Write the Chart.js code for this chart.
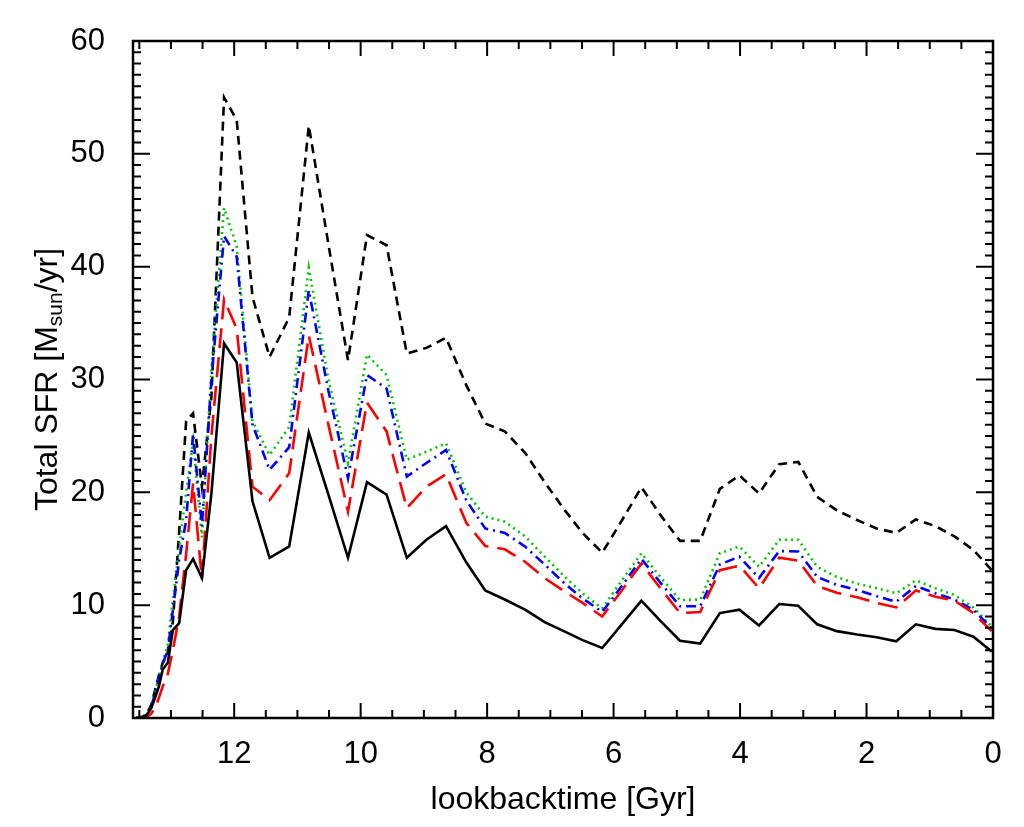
<!DOCTYPE html>
<html>
<head>
<meta charset="utf-8">
<script src="https://cdn.jsdelivr.net/npm/chart.js@4.4.1/dist/chart.umd.min.js"></script>
<style>
  html, body { margin: 0; padding: 0; background: #fff; }
  #wrap { width: 1024px; height: 827px; position: relative; }
</style>
</head>
<body>
<div id="wrap"><canvas id="sfr"></canvas></div>
<script>
// lookback time of each snapshot [Gyr]
const lookback = [13.55, 13.45, 13.38, 13.31, 13.25, 13.19, 13.13, 13.05, 12.97, 12.87,
  12.76, 12.65, 12.51, 12.36, 12.16, 11.96, 11.71, 11.44, 11.13, 10.82,
  10.51, 10.20, 9.90, 9.59, 9.27, 8.96, 8.65, 8.33, 8.03, 7.72,
  7.40, 7.09, 6.77, 6.49, 6.18, 5.87, 5.56, 5.26, 4.95, 4.63,
  4.32, 4.01, 3.70, 3.38, 3.08, 2.78, 2.47, 2.15, 1.84, 1.53,
  1.22, 0.91, 0.61, 0.31, 0.02]

// total SFR [Msun/yr]
const sfrSolid = [0, 0.05, 0.3, 0.9, 1.8, 2.8, 4.3, 4.9, 7.8, 8.4,
  13.1, 14.1, 12.4, 19.9, 33.2, 31.5, 19.2, 14.2, 15.2, 25.3,
  19.8, 14.2, 20.9, 19.8, 14.2, 15.8, 17.0, 13.8, 11.3, 10.5,
  9.6, 8.5, 7.65, 6.9, 6.2, 8.3, 10.4, 8.6, 6.85, 6.6,
  9.3, 9.6, 8.2, 10.1, 9.95, 8.3, 7.7, 7.4, 7.15, 6.8,
  8.3, 7.9, 7.8, 7.2, 5.9]
const sfrDashed = [0, 0.1, 0.4, 1.2, 2.5, 3.8, 4.9, 5.8, 8.5, 16.5,
  26.3, 27.0, 20.5, 28.5, 55.0, 53.0, 37.3, 32.0, 35.5, 52.5,
  42.0, 31.7, 42.8, 41.9, 32.3, 32.8, 33.7, 29.5, 26.1, 25.4,
  23.5, 20.9, 18.4, 16.4, 14.65, 17.5, 20.45, 18.0, 15.7, 15.7,
  20.3, 21.5, 19.9, 22.5, 22.7, 19.6, 18.4, 17.55, 16.8, 16.4,
  17.6, 17.0, 16.1, 14.9, 13.1]
const sfrRed = [0, 0, 0.1, 0.4, 0.9, 1.8, 2.8, 3.9, 6.0, 9.0,
  14.5, 20.8, 12.3, 25.0, 37.1, 34.5, 20.5, 19.3, 21.7, 33.9,
  26.0, 18.3, 27.95, 25.4, 18.6, 20.5, 21.6, 17.3, 15.25, 14.95,
  13.85, 12.4, 11.2, 10.2, 9.0, 11.3, 13.7, 11.5, 9.3, 9.4,
  13.1, 13.5, 11.5, 14.2, 13.95, 11.7, 11.1, 10.7, 10.2, 9.8,
  11.3, 10.75, 10.4, 9.3, 7.7]
const sfrBlue = [0, 0.05, 0.3, 1.0, 2.2, 3.5, 4.8, 6.0, 9.5, 14.0,
  17.5, 25.2, 17.0, 30.0, 42.7, 40.9, 26.0, 22.0, 24.0, 37.9,
  29.0, 21.25, 30.4, 29.2, 21.4, 22.6, 23.75, 19.3, 16.8, 16.4,
  15.2, 13.6, 11.9, 10.6, 9.4, 11.7, 14.1, 12.0, 9.9, 9.9,
  13.6, 14.3, 12.4, 14.8, 14.75, 12.5, 11.8, 11.35, 10.8, 10.3,
  11.7, 11.05, 10.5, 9.6, 7.95]
const sfrGreen = [0, 0.05, 0.3, 1.0, 2.3, 3.6, 5.0, 6.5, 10.5, 15.0,
  20.0, 24.5, 16.0, 31.0, 45.2, 41.8, 26.3, 23.3, 25.8, 39.9,
  30.0, 22.6, 32.2, 30.4, 22.9, 23.6, 24.35, 20.0, 17.85, 17.4,
  16.1, 14.3, 12.5, 11.05, 9.7, 12.2, 14.6, 12.5, 10.45, 10.5,
  14.6, 15.2, 13.4, 15.8, 15.8, 13.4, 12.5, 11.9, 11.5, 11.05,
  12.2, 11.5, 10.9, 9.8, 8.1]

const xMajorTicks = [0, 2, 4, 6, 8, 10, 12]
const yMajorTicks = [0, 10, 20, 30, 40, 50, 60]
const xMinorStep = 0.5
const yMinorStep = 1

const FONT = "'Liberation Sans', 'DejaVu Sans', sans-serif"

function pts(ys) {
  return lookback.map((t, i) => ({ x: t, y: ys[i] }))
}

function ds(data, color, dash) {
  return {
    data: pts(data),
    borderColor: color,
    borderWidth: 2.6,
    borderDash: dash,
    pointRadius: 0,
    tension: 0,
    fill: false
  }
}

// IDL-like box with inward ticks on all four sides, plus axis titles
const frame = {
  id: 'frame',
  afterDraw(chart) {
    const ctx = chart.ctx
    const ca = chart.chartArea
    const xs = chart.scales.x, ys = chart.scales.y
    ctx.save()
    ctx.strokeStyle = '#000'
    ctx.lineWidth = 2.5
    ctx.strokeRect(ca.left, ca.top, ca.right - ca.left, ca.bottom - ca.top)
    ctx.lineWidth = 2
    ctx.beginPath()
    for (let v = 0; v <= xs.max + 1e-6; v += xMinorStep) {
      const px = xs.getPixelForValue(v)
      const len = xMajorTicks.includes(v) ? 15 : 8
      ctx.moveTo(px, ca.bottom); ctx.lineTo(px, ca.bottom - len)
      ctx.moveTo(px, ca.top); ctx.lineTo(px, ca.top + len)
    }
    for (let v = 0; v <= ys.max + 1e-6; v += yMinorStep) {
      const py = ys.getPixelForValue(v)
      const len = yMajorTicks.includes(v) ? 17 : 8
      ctx.moveTo(ca.left, py); ctx.lineTo(ca.left + len, py)
      ctx.moveTo(ca.right, py); ctx.lineTo(ca.right - len, py)
    }
    ctx.stroke()

    // x title
    ctx.fillStyle = '#000'
    ctx.font = '32px ' + FONT
    ctx.textAlign = 'center'
    ctx.textBaseline = 'middle'
    ctx.fillText('lookbacktime [Gyr]', (ca.left + ca.right) / 2, 800)

    // y title with subscript
    ctx.translate(48, (ca.top + ca.bottom) / 2)
    ctx.rotate(-Math.PI / 2)
    const big = '32px ' + FONT, small = '21px ' + FONT
    const parts = [['Total SFR [M', big, 0], ['sun', small, 8], ['/yr]', big, 0]]
    let w = 0
    parts.forEach(p => { ctx.font = p[1]; w += ctx.measureText(p[0]).width })
    let x = -w / 2
    ctx.textAlign = 'left'
    parts.forEach(p => {
      ctx.font = p[1]
      ctx.fillText(p[0], x, p[2])
      x += ctx.measureText(p[0]).width
    })
    ctx.restore()
  }
}

new Chart(document.getElementById('sfr'), {
  type: 'line',
  data: {
    datasets: [
      ds(sfrSolid, '#000000', []),
      ds(sfrRed, '#ff0000', [20, 9]),
      ds(sfrBlue, '#0000ff', [10, 5, 2, 5]),
      ds(sfrGreen, '#00c800', [2, 4]),
      ds(sfrDashed, '#000000', [9, 6])
    ]
  },
  options: {
    responsive: true,
    maintainAspectRatio: false,
    animation: false,
    layout: { padding: { left: 0, right: 31, top: 41, bottom: 0 } },
    plugins: { legend: { display: false }, tooltip: { enabled: false } },
    scales: {
      x: {
        type: 'linear',
        reverse: true,
        min: 0,
        max: 13.6,
        grid: { display: false },
        border: { display: false },
        afterBuildTicks: s => { s.ticks = xMajorTicks.map(v => ({ value: v })) },
        afterFit: s => { s.height = 109 },
        ticks: { color: '#000', padding: 10, maxRotation: 0, font: { family: FONT, size: 31 } }
      },
      y: {
        min: 0,
        max: 60,
        grid: { display: false },
        border: { display: false },
        afterBuildTicks: s => { s.ticks = yMajorTicks.map(v => ({ value: v })) },
        afterFit: s => { s.width = 133 },
        ticks: { color: '#000', padding: 20, font: { family: FONT, size: 31 } }
      }
    }
  },
  plugins: [frame]
})
</script>
</body>
</html>
